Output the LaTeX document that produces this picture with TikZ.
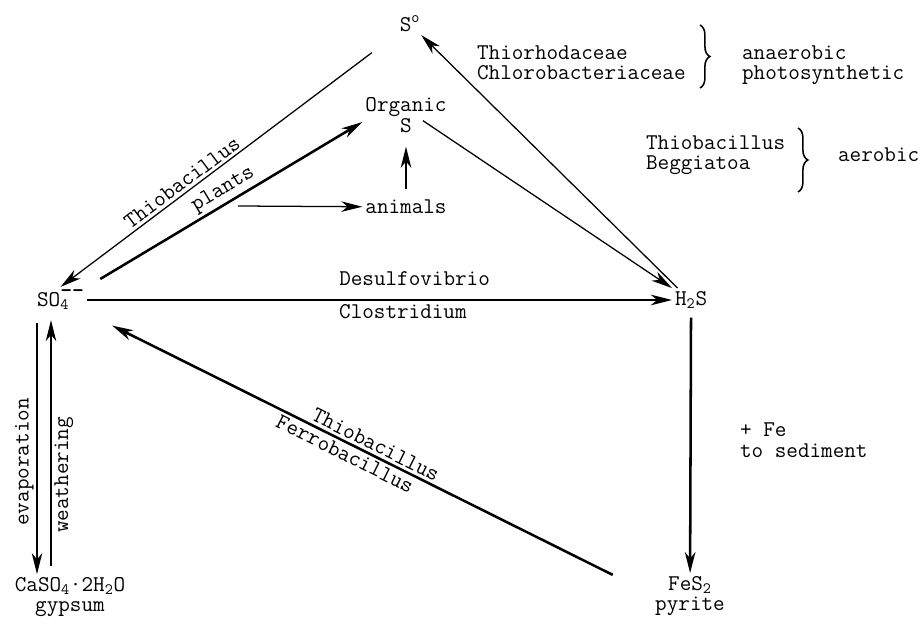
\documentclass[tikz,border=0pt]{standalone}
\usepackage{tikz}
\usetikzlibrary{arrows.meta,decorations.pathreplacing}

\begin{document}
\begin{tikzpicture}[x=0.025cm,y=-0.025cm,
    every node/.style={font=\ttfamily\fontsize{16}{14.5}\selectfont, inner sep=2pt},
    >={Stealth[length=15pt,width=7.5pt,inset=4.5pt]}]
    \useasboundingbox (0,0) rectangle (922,624);

    \tikzstyle{thinedge} = [line width=0.9pt]
    \tikzstyle{boldedge} = [line width=1.8pt]
    \tikzstyle{brace} = [line width=1.1pt, decorate, decoration={brace, amplitude=7pt}]

    \node (s0) at (410,24) {S\textsuperscript{o}};
    \node[align=center] (org) at (406,115) {Organic\\S};
    \node (ani) at (406,207) {animals};
    \node[anchor=west] (so4) at (34,300) {SO\rlap{\textsubscript{4}}\raisebox{6pt}{\textbf{-{}-}}};
    \node[anchor=west] (h2s) at (672,300) {H\textsubscript{2}S};
    \node[align=center] (fes2) at (690,596) {FeS\textsubscript{2}\\pyrite};
    \node[align=center] (caso4) at (70,597) {CaSO\textsubscript{4}·2H\textsubscript{2}O\\gypsum};

    \node[anchor=west, align=left] (anaer) at (474,63) {Thiorhodaceae\\Chlorobacteriaceae};
    \node[anchor=west, align=left] (anaerlab) at (739,65) {anaerobic\\photosynthetic};
    \node[anchor=west, align=left] (aer) at (643,155) {Thiobacillus\\Beggiatoa};
    \node[anchor=west] (aerlab) at (835,155) {aerobic};
    \node[anchor=west, align=left] (fe) at (737,440) {+ Fe\\to sediment};

    \draw[brace] (700,25) -- (700,88);
    \draw[brace] (798,128) -- (798,192);

    \coordinate (br) at (238,206);
    \coordinate (ev) at (37,0);
    \coordinate (we) at (51,0);

    \draw[thinedge,<-,shorten >=22pt] (so4.north) -- (s0)
        node[pos=0.38, above, sloped] {Thiobacillus};
    \draw[boldedge,->,shorten <=11pt] (so4.north east) -- ([yshift=-5pt]org.west)
        node[pos=0.52, above, sloped] {plants};
    \draw[thinedge,->] (br) -- (ani);
    \draw[boldedge,->,shorten <=6pt,shorten >=8pt] (ani) -- (org);
    \draw[thinedge,->] ([shift={(12pt,-4pt)}]org.center) -- (h2s.north west);
    \draw[thinedge,->] ([xshift=4pt]h2s.north west) -- (s0);
    \draw[boldedge,->] (so4) -- (h2s)
        node[pos=0.56, above=7pt] {Desulfovibrio}
        node[pos=0.54, below] {Clostridium};
    \draw[boldedge,->,shorten <=4pt] (h2s) -- (fes2);
    \draw[boldedge,<-,shorten <=20pt] (so4.south east) -- ([shift={(-28pt,15pt)}]fes2.west)
        node[pos=0.54, above, sloped] {Thiobacillus}
        node[pos=0.5, below, sloped] {Ferrobacillus};
    \draw[thinedge,<-,shorten >=7pt] (ev |- caso4.north) -- (ev |- so4.south)
        node[pos=0.43, above, sloped] {evaporation};
    \draw[thinedge,->,shorten <=6pt,shorten >=5pt] (we |- caso4.north) -- (we |- so4.south)
        node[pos=0.38, below, sloped] {weathering};
\end{tikzpicture}
\end{document}
